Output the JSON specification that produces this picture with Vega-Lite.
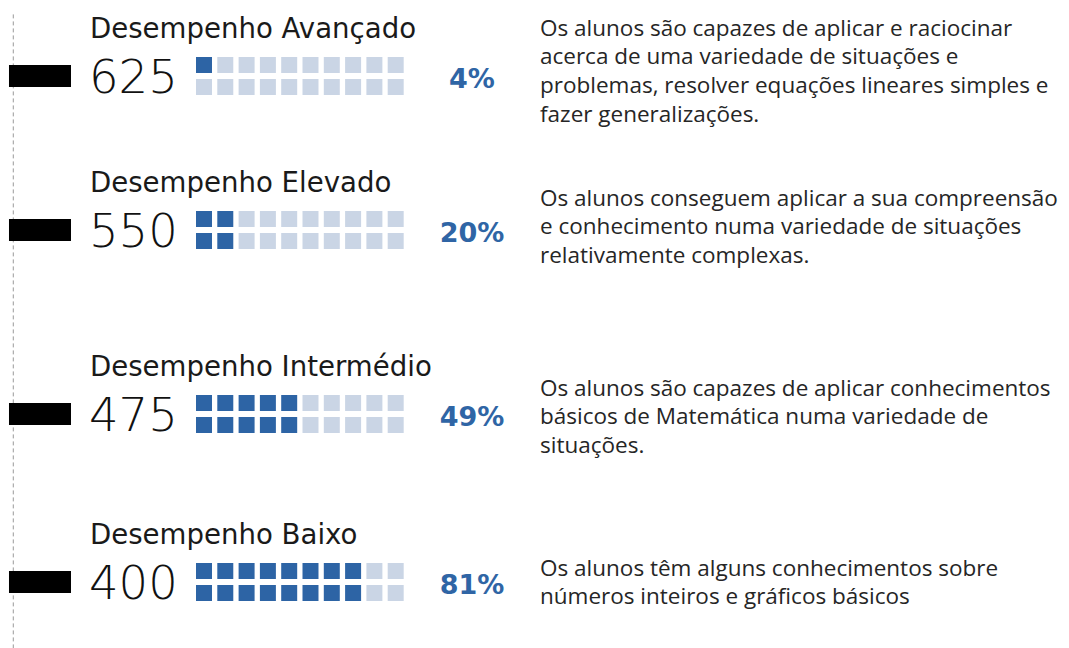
{
  "$schema": "https://vega.github.io/schema/vega-lite/v6.json",
  "width": 1069,
  "height": 648,
  "padding": 0,
  "autosize": "none",
  "background": "white",
  "config": {"view": {"stroke": null}},
  "datasets": {
    "levels": [
      {"nivel": "Desempenho Avançado", "score": 625, "pct": "4%", "desc": ["Os alunos são capazes de aplicar e raciocinar", "acerca de uma variedade de situações e", "problemas, resolver equações lineares simples e", "fazer generalizações."]},
      {"nivel": "Desempenho Elevado", "score": 550, "pct": "20%", "desc": ["Os alunos conseguem aplicar a sua compreensão", "e conhecimento numa variedade de situações", "relativamente complexas."]},
      {"nivel": "Desempenho Intermédio", "score": 475, "pct": "49%", "desc": ["Os alunos são capazes de aplicar conhecimentos", "básicos de Matemática numa variedade de", "situações."]},
      {"nivel": "Desempenho Baixo", "score": 400, "pct": "81%", "desc": ["Os alunos têm alguns conhecimentos sobre", "números inteiros e gráficos básicos"]}
    ],
    "cells": [
      {"s": 625, "c": 0, "r": 0, "f": true}, {"s": 625, "c": 0, "r": 1, "f": false},
      {"s": 625, "c": 1, "r": 0, "f": false}, {"s": 625, "c": 1, "r": 1, "f": false},
      {"s": 625, "c": 2, "r": 0, "f": false}, {"s": 625, "c": 2, "r": 1, "f": false},
      {"s": 625, "c": 3, "r": 0, "f": false}, {"s": 625, "c": 3, "r": 1, "f": false},
      {"s": 625, "c": 4, "r": 0, "f": false}, {"s": 625, "c": 4, "r": 1, "f": false},
      {"s": 625, "c": 5, "r": 0, "f": false}, {"s": 625, "c": 5, "r": 1, "f": false},
      {"s": 625, "c": 6, "r": 0, "f": false}, {"s": 625, "c": 6, "r": 1, "f": false},
      {"s": 625, "c": 7, "r": 0, "f": false}, {"s": 625, "c": 7, "r": 1, "f": false},
      {"s": 625, "c": 8, "r": 0, "f": false}, {"s": 625, "c": 8, "r": 1, "f": false},
      {"s": 625, "c": 9, "r": 0, "f": false}, {"s": 625, "c": 9, "r": 1, "f": false},
      {"s": 550, "c": 0, "r": 0, "f": true}, {"s": 550, "c": 0, "r": 1, "f": true},
      {"s": 550, "c": 1, "r": 0, "f": true}, {"s": 550, "c": 1, "r": 1, "f": true},
      {"s": 550, "c": 2, "r": 0, "f": false}, {"s": 550, "c": 2, "r": 1, "f": false},
      {"s": 550, "c": 3, "r": 0, "f": false}, {"s": 550, "c": 3, "r": 1, "f": false},
      {"s": 550, "c": 4, "r": 0, "f": false}, {"s": 550, "c": 4, "r": 1, "f": false},
      {"s": 550, "c": 5, "r": 0, "f": false}, {"s": 550, "c": 5, "r": 1, "f": false},
      {"s": 550, "c": 6, "r": 0, "f": false}, {"s": 550, "c": 6, "r": 1, "f": false},
      {"s": 550, "c": 7, "r": 0, "f": false}, {"s": 550, "c": 7, "r": 1, "f": false},
      {"s": 550, "c": 8, "r": 0, "f": false}, {"s": 550, "c": 8, "r": 1, "f": false},
      {"s": 550, "c": 9, "r": 0, "f": false}, {"s": 550, "c": 9, "r": 1, "f": false},
      {"s": 475, "c": 0, "r": 0, "f": true}, {"s": 475, "c": 0, "r": 1, "f": true},
      {"s": 475, "c": 1, "r": 0, "f": true}, {"s": 475, "c": 1, "r": 1, "f": true},
      {"s": 475, "c": 2, "r": 0, "f": true}, {"s": 475, "c": 2, "r": 1, "f": true},
      {"s": 475, "c": 3, "r": 0, "f": true}, {"s": 475, "c": 3, "r": 1, "f": true},
      {"s": 475, "c": 4, "r": 0, "f": true}, {"s": 475, "c": 4, "r": 1, "f": true},
      {"s": 475, "c": 5, "r": 0, "f": false}, {"s": 475, "c": 5, "r": 1, "f": false},
      {"s": 475, "c": 6, "r": 0, "f": false}, {"s": 475, "c": 6, "r": 1, "f": false},
      {"s": 475, "c": 7, "r": 0, "f": false}, {"s": 475, "c": 7, "r": 1, "f": false},
      {"s": 475, "c": 8, "r": 0, "f": false}, {"s": 475, "c": 8, "r": 1, "f": false},
      {"s": 475, "c": 9, "r": 0, "f": false}, {"s": 475, "c": 9, "r": 1, "f": false},
      {"s": 400, "c": 0, "r": 0, "f": true}, {"s": 400, "c": 0, "r": 1, "f": true},
      {"s": 400, "c": 1, "r": 0, "f": true}, {"s": 400, "c": 1, "r": 1, "f": true},
      {"s": 400, "c": 2, "r": 0, "f": true}, {"s": 400, "c": 2, "r": 1, "f": true},
      {"s": 400, "c": 3, "r": 0, "f": true}, {"s": 400, "c": 3, "r": 1, "f": true},
      {"s": 400, "c": 4, "r": 0, "f": true}, {"s": 400, "c": 4, "r": 1, "f": true},
      {"s": 400, "c": 5, "r": 0, "f": true}, {"s": 400, "c": 5, "r": 1, "f": true},
      {"s": 400, "c": 6, "r": 0, "f": true}, {"s": 400, "c": 6, "r": 1, "f": true},
      {"s": 400, "c": 7, "r": 0, "f": true}, {"s": 400, "c": 7, "r": 1, "f": true},
      {"s": 400, "c": 8, "r": 0, "f": false}, {"s": 400, "c": 8, "r": 1, "f": false},
      {"s": 400, "c": 9, "r": 0, "f": false}, {"s": 400, "c": 9, "r": 1, "f": false}
    ]
  },
  "layer": [
    {
      "data": {"values": [{}]},
      "mark": {"type": "rule", "color": "#9a9a9a", "strokeWidth": 1, "strokeDash": [4, 3]},
      "encoding": {
        "x": {"datum": -8.953, "type": "quantitative", "scale": {"domain": [-9.577, 40.61], "zero": false, "nice": false}, "axis": null},
        "y": {"datum": 655, "type": "quantitative", "scale": {"type": "linear", "domain": [400, 475, 550, 625], "range": [582, 414, 230, 76], "zero": false, "nice": false}, "axis": null},
        "y2": {"datum": 370}
      }
    },
    {
      "data": {"name": "levels"},
      "mark": {"type": "rule", "color": "#000000", "strokeWidth": 22, "strokeCap": "butt"},
      "encoding": {
        "x": {"datum": -9.155, "type": "quantitative"},
        "x2": {"datum": -6.244},
        "y": {"field": "score", "type": "quantitative"}
      }
    },
    {
      "data": {"name": "cells"},
      "transform": [{"filter": "datum.r == 0"}],
      "mark": {"type": "square", "size": 256, "opacity": 1, "filled": true, "yOffset": -11},
      "encoding": {
        "x": {"field": "c", "type": "quantitative"},
        "y": {"field": "s", "type": "quantitative"},
        "color": {"condition": {"test": "datum.f", "value": "#2d64a5"}, "value": "#cad5e5"}
      }
    },
    {
      "data": {"name": "cells"},
      "transform": [{"filter": "datum.r == 1"}],
      "mark": {"type": "square", "size": 256, "opacity": 1, "filled": true, "yOffset": 11},
      "encoding": {
        "x": {"field": "c", "type": "quantitative"},
        "y": {"field": "s", "type": "quantitative"},
        "color": {"condition": {"test": "datum.f", "value": "#2d64a5"}, "value": "#cad5e5"}
      }
    },
    {
      "data": {"name": "levels"},
      "mark": {"type": "text", "align": "left", "baseline": "alphabetic", "dy": -38, "font": "DejaVu Sans", "fontSize": 27.6, "color": "#1a1a1a"},
      "encoding": {
        "x": {"datum": -5.352, "type": "quantitative"},
        "y": {"field": "score", "type": "quantitative"},
        "text": {"field": "nivel", "type": "nominal"}
      }
    },
    {
      "data": {"name": "levels"},
      "mark": {"type": "text", "align": "left", "baseline": "alphabetic", "dy": 17, "font": "DejaVu Sans", "fontSize": 46.5, "fontWeight": 200, "color": "#111111"},
      "encoding": {
        "x": {"datum": -5.4, "type": "quantitative"},
        "y": {"field": "score", "type": "quantitative"},
        "text": {"field": "score", "type": "nominal"}
      }
    },
    {
      "data": {"name": "levels"},
      "mark": {"type": "text", "align": "center", "baseline": "alphabetic", "dy": 12, "font": "DejaVu Sans", "fontSize": 27, "fontWeight": "bold", "color": "#2f65a5"},
      "encoding": {
        "x": {"datum": 12.582, "type": "quantitative"},
        "y": {"field": "score", "type": "quantitative"},
        "text": {"field": "pct", "type": "nominal"}
      }
    },
    {
      "data": {"name": "levels"},
      "transform": [{"filter": "datum.score == 625"}],
      "mark": {"type": "text", "align": "left", "baseline": "alphabetic", "dy": -40.5, "font": "Open Sans", "fontSize": 22.5, "lineHeight": 28.7, "color": "#262626"},
      "encoding": {
        "x": {"datum": 15.775, "type": "quantitative"},
        "y": {"field": "score", "type": "quantitative"},
        "text": {"field": "desc", "type": "nominal"}
      }
    },
    {
      "data": {"name": "levels"},
      "transform": [{"filter": "datum.score == 550"}],
      "mark": {"type": "text", "align": "left", "baseline": "alphabetic", "dy": -24.5, "font": "Open Sans", "fontSize": 22.5, "lineHeight": 28.7, "color": "#262626"},
      "encoding": {
        "x": {"datum": 15.775, "type": "quantitative"},
        "y": {"field": "score", "type": "quantitative"},
        "text": {"field": "desc", "type": "nominal"}
      }
    },
    {
      "data": {"name": "levels"},
      "transform": [{"filter": "datum.score == 475"}],
      "mark": {"type": "text", "align": "left", "baseline": "alphabetic", "dy": -18.5, "font": "Open Sans", "fontSize": 22.5, "lineHeight": 28.7, "color": "#262626"},
      "encoding": {
        "x": {"datum": 15.775, "type": "quantitative"},
        "y": {"field": "score", "type": "quantitative"},
        "text": {"field": "desc", "type": "nominal"}
      }
    },
    {
      "data": {"name": "levels"},
      "transform": [{"filter": "datum.score == 400"}],
      "mark": {"type": "text", "align": "left", "baseline": "alphabetic", "dy": -6.5, "font": "Open Sans", "fontSize": 22.5, "lineHeight": 28.7, "color": "#262626"},
      "encoding": {
        "x": {"datum": 15.775, "type": "quantitative"},
        "y": {"field": "score", "type": "quantitative"},
        "text": {"field": "desc", "type": "nominal"}
      }
    }
  ]
}
